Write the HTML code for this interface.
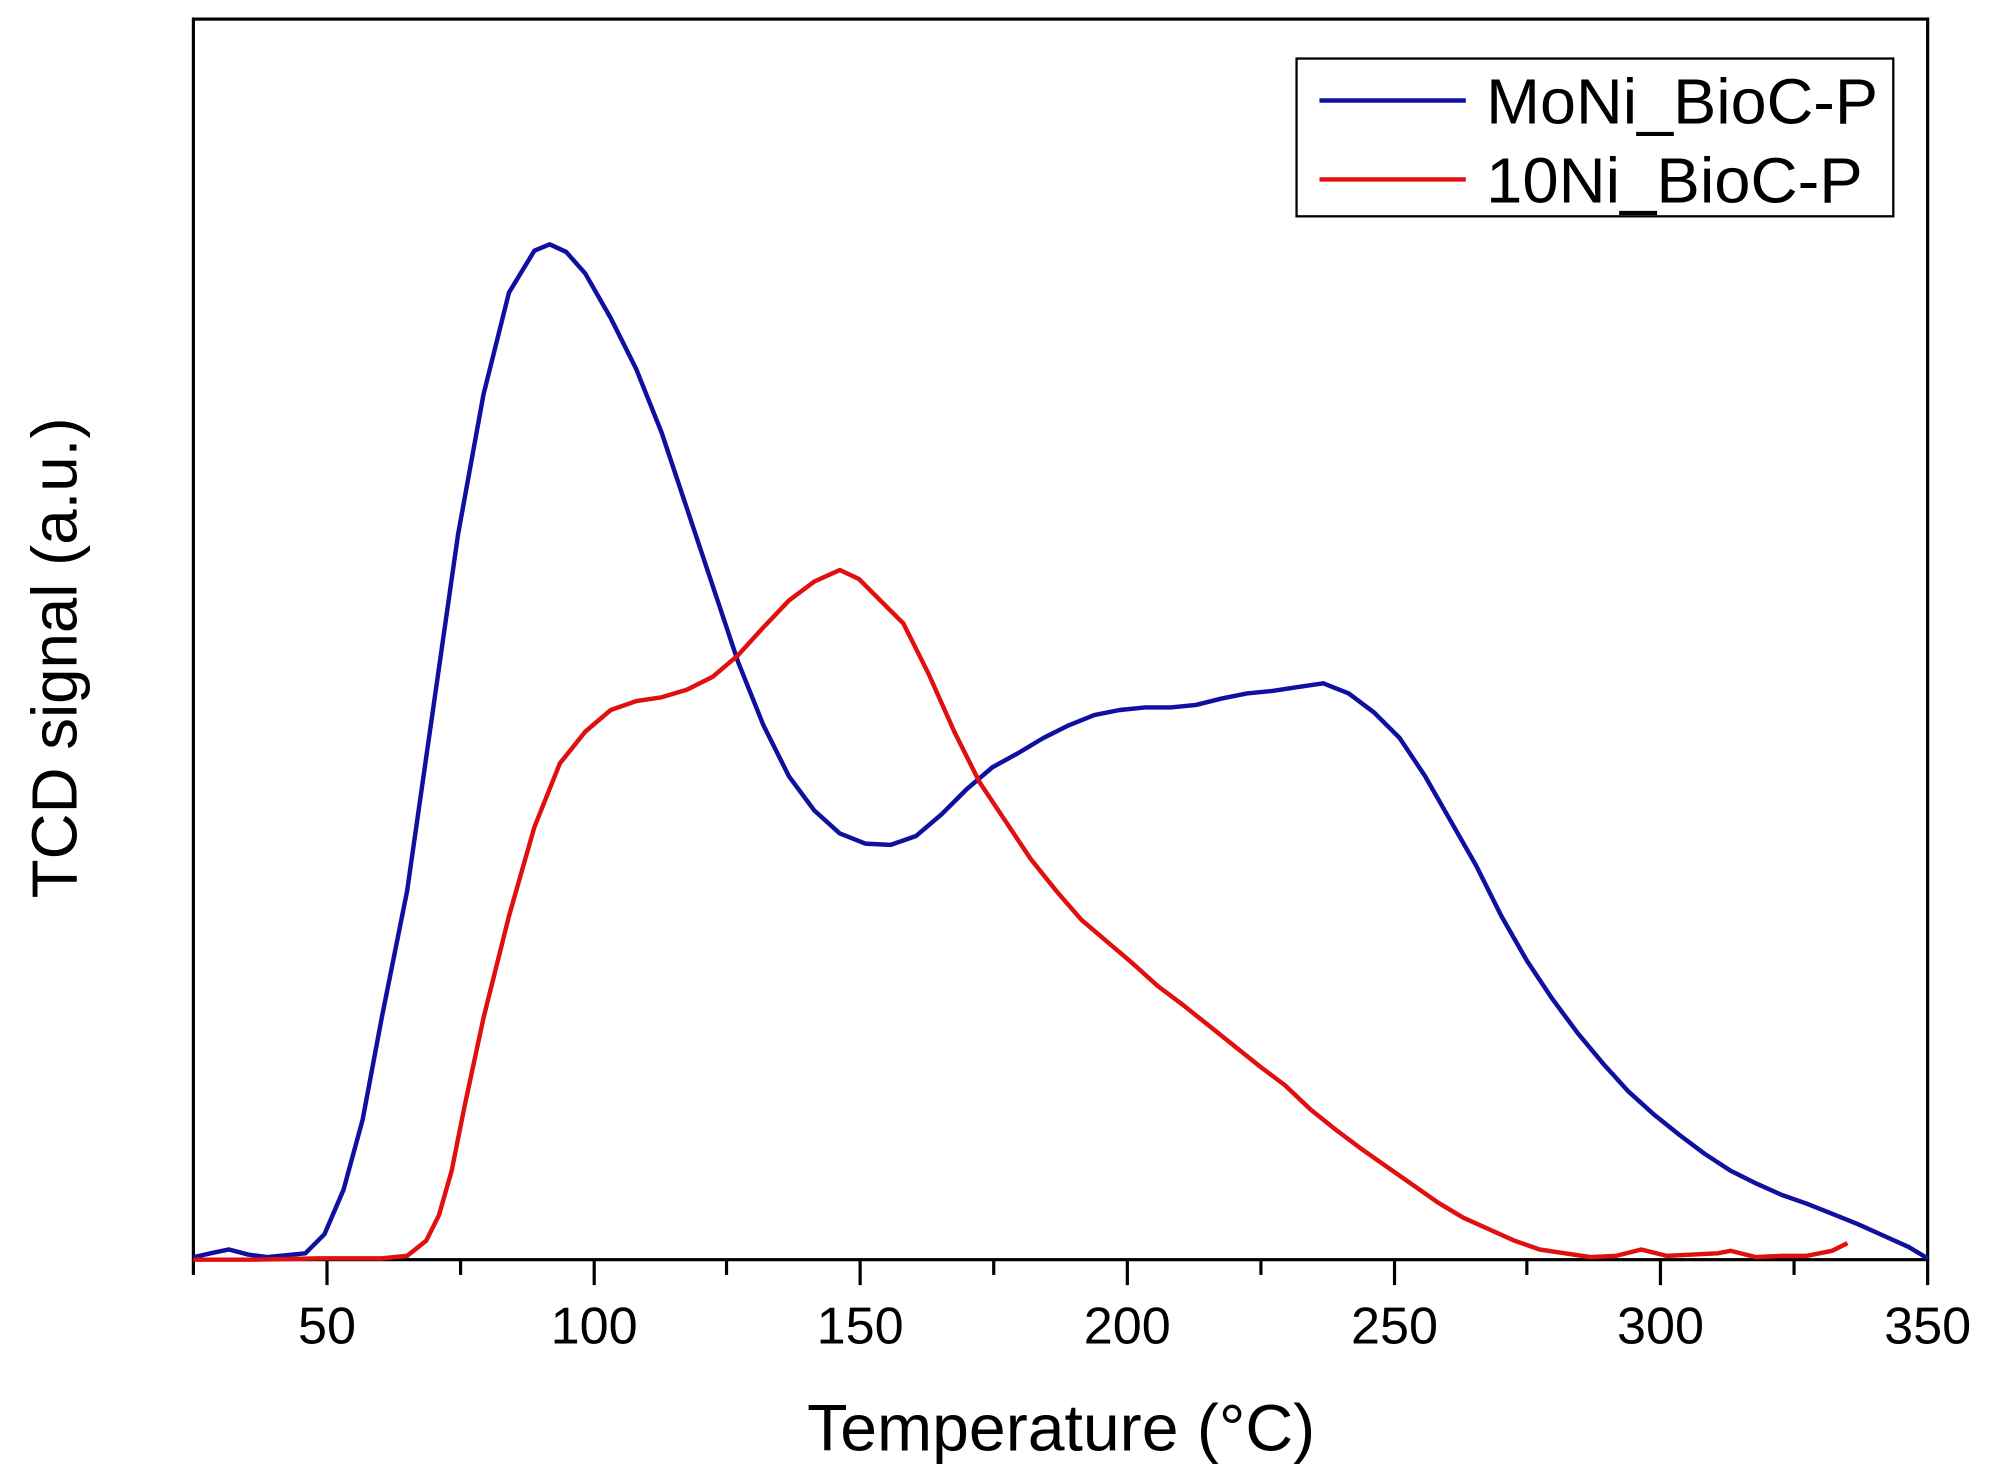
<!DOCTYPE html>
<html><head><style>html,body{margin:0;padding:0;background:#fff}svg{display:block}</style></head>
<body>
<svg width="1990" height="1477" viewBox="0 0 1564 1160.8" xmlns="http://www.w3.org/2000/svg" font-family="Liberation Sans, Arial, sans-serif">
<rect x="0" y="0" width="1564" height="1161" fill="#fff"/>
<rect x="152" y="15" width="1363" height="975" fill="none" stroke="#000" stroke-width="2.5"/>
<g stroke="#000" stroke-width="2.5">
<line x1="257" y1="990" x2="257" y2="1010"/><line x1="467" y1="990" x2="467" y2="1010"/><line x1="676" y1="990" x2="676" y2="1010"/><line x1="886" y1="990" x2="886" y2="1010"/><line x1="1096" y1="990" x2="1096" y2="1010"/><line x1="1305" y1="990" x2="1305" y2="1010"/><line x1="1515" y1="990" x2="1515" y2="1010"/>
<line x1="152" y1="990" x2="152" y2="1002"/><line x1="362" y1="990" x2="362" y2="1002"/><line x1="571" y1="990" x2="571" y2="1002"/><line x1="781" y1="990" x2="781" y2="1002"/><line x1="991" y1="990" x2="991" y2="1002"/><line x1="1200" y1="990" x2="1200" y2="1002"/><line x1="1410" y1="990" x2="1410" y2="1002"/>
</g>
<g font-size="41" text-anchor="middle" fill="#000">
<text x="257" y="1056">50</text><text x="467" y="1056">100</text><text x="676" y="1056">150</text><text x="886" y="1056">200</text><text x="1096" y="1056">250</text><text x="1305" y="1056">300</text><text x="1515" y="1056">350</text>
</g>
<text x="834" y="1140" font-size="52" text-anchor="middle">Temperature (°C)</text>
<text transform="translate(60,517) rotate(-90)" font-size="50" text-anchor="middle">TCD signal (a.u.)</text>
<polyline fill="none" stroke="#1010a0" stroke-width="3.5" stroke-linejoin="round" points="152,988 170,984 180,982 195,986 210,988 240,985 255,970 270,935 285,880 300,800 320,700 340,560 360,420 380,310 400,230 420,197 432,192 445,198 460,215 480,250 500,290 520,340 540,400 560,460 580,520 600,570 620,610 640,637 660,655 680,663 700,664 720,657 740,640 760,620 780,603 800,592 820,580 840,570 860,562 880,558 900,556 920,556 940,554 960,549 980,545 1000,543 1020,540 1040,537 1060,545 1080,560 1100,580 1120,610 1140,645 1160,680 1180,720 1200,755 1220,785 1240,812 1260,836 1280,858 1300,876 1320,892 1340,907 1360,920 1380,930 1400,939 1420,946 1440,954 1460,962 1480,971 1500,980 1515,989"/>
<polyline fill="none" stroke="#e01010" stroke-width="3.5" stroke-linejoin="round" points="152,990 200,990 250,989 300,989 320,987 335,975 345,955 355,920 365,870 380,800 400,720 420,650 440,600 460,575 480,558 500,551 520,548 540,542 560,532 580,515 600,493 620,472 640,457 660,448 675,455 690,470 710,490 730,530 750,575 770,615 790,645 810,675 830,700 850,723 870,740 890,757 910,775 930,790 950,806 970,822 990,838 1010,853 1030,872 1050,888 1070,903 1090,917 1110,931 1130,945 1150,957 1170,966 1190,975 1210,982 1230,985 1250,988 1270,987 1290,982 1310,987 1330,986 1350,985 1360,983 1380,988 1400,987 1420,987 1440,983 1452,977"/>
<rect x="1019" y="46" width="469" height="124" fill="#fff" stroke="#000" stroke-width="1.8"/>
<line x1="1037" y1="79" x2="1152" y2="79" stroke="#1010a0" stroke-width="3.5"/>
<line x1="1037" y1="141" x2="1152" y2="141" stroke="#e01010" stroke-width="3.5"/>
<text x="1168" y="97" font-size="50" textLength="308" lengthAdjust="spacingAndGlyphs">MoNi_BioC-P</text>
<text x="1168" y="159" font-size="50" textLength="296" lengthAdjust="spacingAndGlyphs">10Ni_BioC-P</text>
</svg>
</body></html>
